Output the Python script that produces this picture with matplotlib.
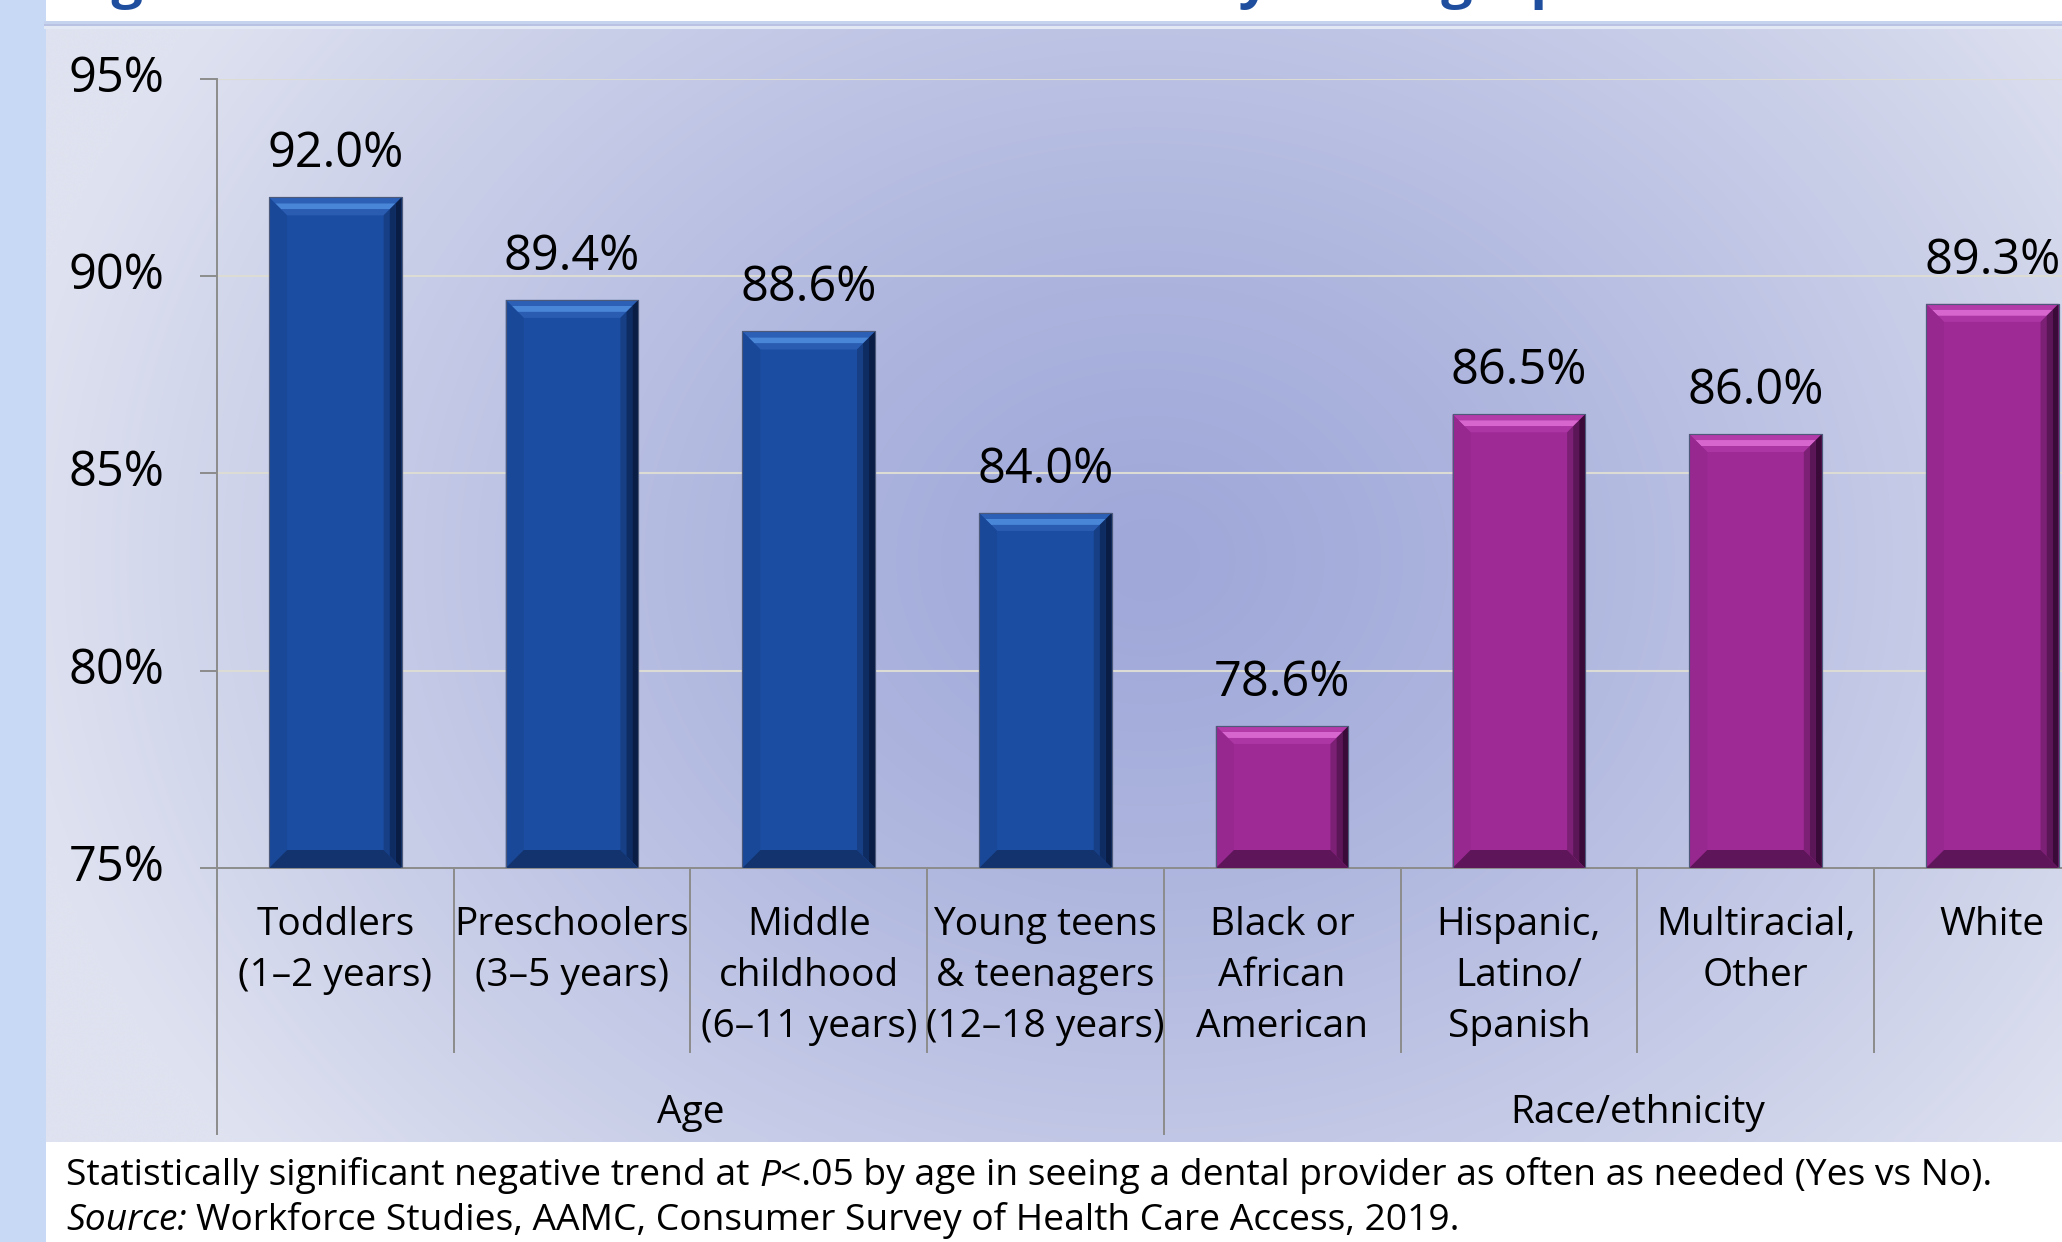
import matplotlib.pyplot as plt
import numpy as np
from matplotlib.patches import Polygon, Rectangle

plt.rcParams['font.family'] = ['Open Sans', 'DejaVu Sans']

# Данные
categories = ['Toddlers\n(1–2 years)', 'Preschoolers\n(3–5 years)',
              'Middle\nchildhood\n(6–11 years)', 'Young teens\n& teenagers\n(12–18 years)',
              'Black or\nAfrican\nAmerican', 'Hispanic,\nLatino/\nSpanish',
              'Multiracial,\nOther', 'White']
values = [92.0, 89.4, 88.6, 84.0, 78.6, 86.5, 86.0, 89.3]
groups = ['Age', 'Race/ethnicity']
group_sizes = [4, 4]
yticks = [75, 80, 85, 90, 95]
ytick_labels = ['75%', '80%', '85%', '90%', '95%']
title = 'Figure 4. Dental visits as often as needed by demographic characteristics'
note = 'Statistically significant negative trend at '
note_p = 'P'
note_rest = '<.05 by age in seeing a dental provider as often as needed (Yes vs No).'
source_lbl = 'Source:'
source_txt = 'Workforce Studies, AAMC, Consumer Survey of Health Care Access, 2019.'

W, H = 2062, 1242
fig = plt.figure(figsize=(W / 100, H / 100), dpi=100, facecolor='white')

# Фон в пикселях
bg = fig.add_axes([0, 0, 1, 1])
bg.set_xlim(0, W)
bg.set_ylim(H, 0)
bg.axis('off')

bg.add_patch(Rectangle((0, 0), 46, H, color='#c8d9f5', lw=0))
bg.add_patch(Rectangle((44, 21), W, 3, color='#c6d3ef', lw=0))
bg.add_patch(Rectangle((44, 24), W, 2, color='#b9c2e2', lw=0))
bg.add_patch(Rectangle((44, 26), W, 3, color='#e3e8f5', lw=0))

# Радиальный градиент панели
xs = np.linspace(44, W, 400)
ys = np.linspace(29, 1142, 220)
X, Y = np.meshgrid(xs, ys)
r = np.sqrt(((X - 1150) / 1150) ** 2 + ((Y - 560) / 950) ** 2)
t = np.clip(r, 0, 1) ** 1.3
c0 = np.array([159, 168, 217]) / 255
c1 = np.array([223, 226, 240]) / 255
img = c0 + (c1 - c0) * t[..., None]
bg.imshow(img, extent=(44, W, 1142, 29), aspect='auto', interpolation='bicubic', zorder=0)

# Заголовок (почти весь за верхним краем)
bg.text(64, -3, title, fontsize=40, fontweight='bold', color='#1f4e9f',
        ha='left', va='baseline')

# Основная область графика
px_x = 236.7
px_y = 789 / 20
ax = fig.add_axes([217 / W, 1 - 868 / H, 8 * px_x / W, 789 / H])
ax.set_facecolor('none')
ax.set_xlim(-0.5, 7.5)
ax.set_ylim(75, 95)

for s in ['top', 'right']:
    ax.spines[s].set_visible(False)
for s in ['left', 'bottom']:
    ax.spines[s].set_color('#8c8c8c')
    ax.spines[s].set_linewidth(1.4)

ax.set_yticks(yticks)
ax.set_yticklabels(ytick_labels)
ax.tick_params(axis='y', direction='out', length=12, width=1.4, color='#8c8c8c',
               labelsize=35, pad=26)
for lbl in ax.get_yticklabels():
    lbl.set_va('center')
ax.set_xticks([])
for yv in yticks[1:]:
    ax.axhline(yv, color='#dcdcd4', lw=1.5, zorder=1)

x = np.arange(len(values))
bw = 0.56
colors = ['blue'] * group_sizes[0] + ['purple'] * group_sizes[1]
palette = {
    'blue': dict(face='#1b4ea3', top=['#2c5fb6', '#4a86d8', '#2a5cb2'],
                 right=['#163f86', '#0f2c62', '#0a1d45'], left='#1a4898', bottom='#12336e'),
    'purple': dict(face='#9e2a96', top=['#b23aa9', '#d767cf', '#ad36a5'],
                   right=['#7c2076', '#5a1656', '#3a0a38'], left='#96288f', bottom='#5e1559'),
}

ax.bar(x, np.array(values) - 75, bottom=75, width=bw,
       color=[palette[c]['face'] for c in colors],
       edgecolor='#4d5a7a', linewidth=0.8, zorder=2)

# Фаски на столбиках
b = 18
dx, dy = b / px_x, b / px_y
for xi, v, c in zip(x, values, colors):
    p = palette[c]
    x0, x1, y0, y1 = xi - bw / 2, xi + bw / 2, 75, v
    n = len(p['top'])
    for k, col in enumerate(p['top']):
        a0, a1 = k / n, (k + 1) / n
        ax.add_patch(Polygon([(x0 + dx * a0, y1 - dy * a0), (x1 - dx * a0, y1 - dy * a0),
                              (x1 - dx * a1, y1 - dy * a1), (x0 + dx * a1, y1 - dy * a1)],
                             color=col, lw=0, zorder=3))
    for k, col in enumerate(p['right']):
        a0, a1 = 1 - k / n, 1 - (k + 1) / n
        ax.add_patch(Polygon([(x1 - dx * a0, y1 - dy * a0), (x1 - dx * a1, y1 - dy * a1),
                              (x1 - dx * a1, y0 + dy * a1), (x1 - dx * a0, y0 + dy * a0)],
                             color=col, lw=0, zorder=3))
    ax.add_patch(Polygon([(x0, y1), (x0 + dx, y1 - dy), (x0 + dx, y0 + dy), (x0, y0)],
                         color=p['left'], lw=0, zorder=3))
    ax.add_patch(Polygon([(x0, y0), (x0 + dx, y0 + dy), (x1 - dx, y0 + dy), (x1, y0)],
                         color=p['bottom'], lw=0, zorder=3))
    ax.add_patch(Rectangle((x0, y0), bw, y1 - y0, fill=False, ec='#4d5a7a', lw=0.8, zorder=4))
    ax.annotate(f'{v:.1f}%', xy=(xi, v), xytext=(0, 18), textcoords='offset pixels',
                ha='center', va='bottom', fontsize=35, annotation_clip=False, zorder=5)

# Разделители категорий и групп
trans = ax.get_xaxis_transform()
edges = np.cumsum([0] + group_sizes) - 0.5
for i in range(len(values) + 1):
    xb = i - 0.5
    low = -0.337 if xb in edges else -0.233
    ax.plot([xb, xb], [0, low], transform=trans, color='#8c8c8c', lw=1.4, clip_on=False)

for xi, cat in zip(x, categories):
    ax.text(xi, -0.048, cat, transform=trans, ha='center', va='top', fontsize=28,
            linespacing=1.45, multialignment='center')

for g, e0, e1 in zip(groups, edges[:-1], edges[1:]):
    ax.text((e0 + e1) / 2, -0.31, g, transform=trans, ha='center', va='center', fontsize=28)

# Подпись снизу
t1 = bg.text(66, 1176, note, fontsize=26.8, ha='left', va='center')
t2 = bg.annotate(note_p, xy=(1, 0), xycoords=t1, va='bottom', ha='left',
                 fontsize=26.8, fontstyle='italic')
bg.annotate(note_rest, xy=(1, 0), xycoords=t2, va='bottom', ha='left', fontsize=26.8)
s1 = bg.text(66, 1221, source_lbl, fontsize=26.8, ha='left', va='center', fontstyle='italic')
bg.annotate(source_txt, xy=(1, 0), xycoords=s1, xytext=(9, 0), textcoords='offset pixels',
            va='bottom', ha='left', fontsize=26.8)

fig.savefig('out.png', dpi=100)
